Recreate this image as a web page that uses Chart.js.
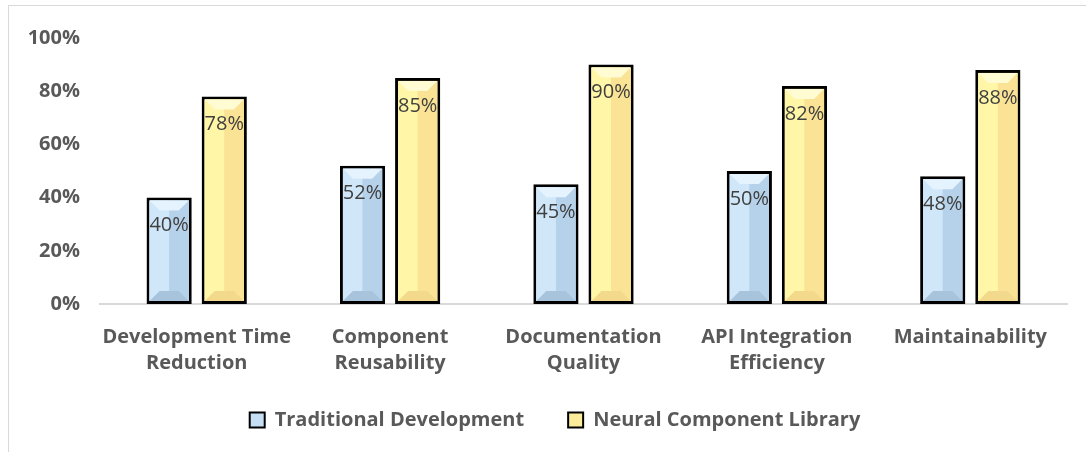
<!DOCTYPE html>
<html>
<head>
<meta charset="utf-8">
<script src="https://cdn.jsdelivr.net/npm/chart.js@4.4.1/dist/chart.umd.min.js"></script>
<style>
  html, body { margin: 0; padding: 0; background: #fff; overflow: hidden; }
  #wrap {
    position: absolute; left: 8px; top: 5px; width: 1078px; height: 447px;
    border-left: 1px solid #d9d9d9; border-top: 1px solid #d9d9d9;
  }
</style>
</head>
<body>
<div id="wrap"><canvas id="myChart"></canvas></div>
<script>
const categories = [
  ['Development Time', 'Reduction'],
  ['Component', 'Reusability'],
  ['Documentation', 'Quality'],
  ['API Integration', 'Efficiency'],
  ['Maintainability'],
];
const traditional = [40, 52, 45, 50, 48];
const neural = [78, 85, 90, 82, 88];
const seriesNames = ['Traditional Development', 'Neural Component Library'];
const yTicks = [0, 20, 40, 60, 80, 100];

// цвета для эффекта фаски: левая половина, правая, верх, низ
const bevelColors = [
  { left: '#d0e7f9', right: '#b6d2ea', top: '#e4f3fd', bottom: '#a8c4dd' },
  { left: '#fff6a8', right: '#fbe395', top: '#fffbd2', bottom: '#f3d98c' },
];

const bevelPlugin = {
  id: 'bevel',
  afterLayout(chart) {
    // подписи оси X не обрезаются, легенда чуть правее
    const x = chart.scales.x;
    x.bottom = x.top + 80;
    chart.legend.left += 17;
    chart.legend.right += 17;
  },
  afterDatasetsDraw(chart) {
    const ctx = chart.ctx;
    chart.data.datasets.forEach((ds, di) => {
      const meta = chart.getDatasetMeta(di);
      const c = bevelColors[di];
      meta.data.forEach((bar, i) => {
        const p = bar.getProps(['x', 'y', 'base', 'width'], true);
        const bw = 3;
        const l = p.x - p.width / 2 + bw, r = p.x + p.width / 2 - bw;
        const t = p.y + bw, b = p.base - bw;
        const mid = (l + r) / 2;
        const bv = Math.min(10, (b - t) / 2);
        ctx.save();
        ctx.fillStyle = c.left;
        ctx.fillRect(l, t, mid - l, b - t);
        ctx.fillStyle = c.right;
        ctx.fillRect(mid, t, r - mid, b - t);
        ctx.fillStyle = c.top;
        ctx.beginPath();
        ctx.moveTo(l, t); ctx.lineTo(r, t); ctx.lineTo(r - bv, t + bv); ctx.lineTo(l + bv, t + bv);
        ctx.closePath(); ctx.fill();
        ctx.fillStyle = c.bottom;
        ctx.beginPath();
        ctx.moveTo(l, b); ctx.lineTo(r, b); ctx.lineTo(r - bv, b - bv); ctx.lineTo(l + bv, b - bv);
        ctx.closePath(); ctx.fill();
        // подпись значения
        ctx.fillStyle = '#404040';
        ctx.font = "20px 'Open Sans', sans-serif";
        ctx.textAlign = 'center';
        ctx.textBaseline = 'middle';
        ctx.fillText(ds.data[i] + '%', p.x, p.y + 28);
        ctx.restore();
      });
    });
  },
};

const data = {
  labels: categories,
  datasets: [
    {
      label: seriesNames[0],
      data: traditional,
      backgroundColor: '#c5def3',
      borderColor: '#000000',
      borderWidth: 3,
      borderSkipped: false,
      categoryPercentage: 0.57,
      barPercentage: 0.82,
    },
    {
      label: seriesNames[1],
      data: neural,
      backgroundColor: '#fdeb9c',
      borderColor: '#000000',
      borderWidth: 3,
      borderSkipped: false,
      categoryPercentage: 0.57,
      barPercentage: 0.82,
    },
  ],
};

const font = { size: 20, weight: 'bold', family: "'Open Sans', sans-serif" };

const config = {
  type: 'bar',
  data,
  plugins: [bevelPlugin],
  options: {
    responsive: true,
    maintainAspectRatio: false,
    animation: false,
    layout: { padding: { top: 26, right: 20, left: 0, bottom: 13 } },
    plugins: {
      legend: {
        position: 'bottom',
        labels: {
          boxWidth: 15,
          boxHeight: 15,
          padding: 44,
          color: '#595959',
          font: font,
          generateLabels: chart =>
            Chart.defaults.plugins.legend.labels.generateLabels(chart).map(l => ({ ...l, lineWidth: 2 })),
        },
      },
      tooltip: { enabled: false },
    },
    scales: {
      x: {
        grid: { display: false, drawTicks: false },
        border: { display: true, color: '#d9d9d9', width: 2 },
        afterFit(scale) { scale.height = 62; },
        ticks: {
          maxRotation: 0,
          padding: 20,
          color: '#595959',
          font: { ...font, lineHeight: 1.3 },
        },
      },
      y: {
        min: 0,
        max: 100,
        grid: { display: false, drawTicks: false },
        border: { display: false },
        afterFit(scale) { scale.width = 91; },
        afterBuildTicks(scale) { scale.ticks = yTicks.map(v => ({ value: v })); },
        ticks: {
          padding: 20,
          color: '#595959',
          font: font,
          callback: v => v + '%',
        },
      },
    },
  },
};

var myChart = new Chart(document.getElementById('myChart'), config);
</script>
</body>
</html>
